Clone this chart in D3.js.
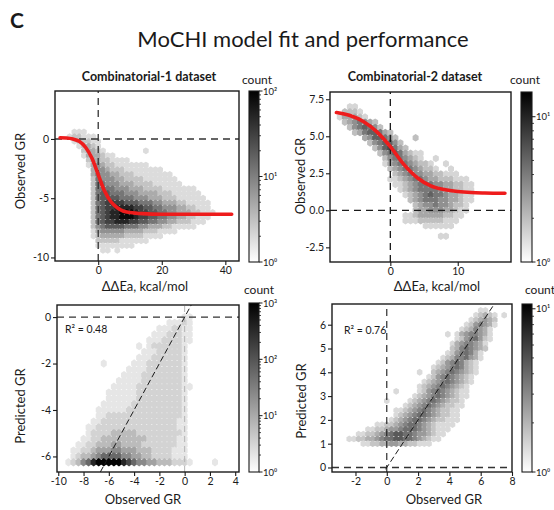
<!DOCTYPE html>
<html><head><meta charset="utf-8">
<script src="https://cdn.jsdelivr.net/npm/d3@7"></script>
<style>
body{margin:0;background:#fff}
svg{display:block}
text{font-family:Lato,'Open Sans',sans-serif;fill:#1a1a1a}
</style>
</head><body>
<svg id="c" width="554" height="510"></svg>
<script>
// ---------------- DATA ----------------
const panelLetter = "C";
const mainTitle = "MoCHI model fit and performance";
const panelTitles = ["Combinatorial-1 dataset", "Combinatorial-2 dataset"];

// density bins: [row index j, first column index i, levels per column ('.' = empty)]
// Panel 1: x = -9 + 1.5*i, y = 1.0 - 0.4*j
const p1XStart = -9, p1XStep = 1.5, p1YStart = 1.0, p1YStep = 0.4;
const p1Rows = [
 [1,1,"111"],
 [2,0,"122111"],
 [3,1,"122211"],
 [4,2,"12321"],
 [5,3,"23321........1"],
 [6,3,"1333211"],
 [7,4,"233221111"],
 [8,4,"1343221111111"],
 [9,5,"344322211111111"],
 [10,5,"35443322211111111"],
 [11,5,"254443322221111111"],
 [12,5,"2554443332222111111"],
 [13,5,"2555544433322221111111"],
 [14,5,"25665554443333222111111"],
 [15,5,"256666555444333222111111"],
 [16,5,"2567777666555443332211111"],
 [17,5,"2567788887766554443322111"],
 [18,5,"25678899987766554433322111"],
 [19,5,"2567889998776655443322111"],
 [20,5,"256778887766554433222111"],
 [21,5,"2456666555443332211111"],
 [22,5,"134444433332221111"],
 [23,5,"123333322221111"],
 [24,6,"22222111111"],
 [25,6,"11111111"],
 [26,7,"11.1"]
];
// Panel 2: x = -7.5 + 0.75*i, y = 7.0 - 0.35*j
const p2XStart = -7.5, p2XStep = 0.75, p2YStart = 7.0, p2YStep = 0.35;
const p2Rows = [
 [0,2,"11"],
 [1,1,"2221"],
 [2,0,"133321"],
 [3,1,"2345432"],
 [4,2,"2456542"],
 [5,3,"23566532"],
 [6,5,"3466542...2"],
 [7,6,"2456642"],
 [8,7,"2467532"],
 [9,8,"245653211"],
 [10,9,"24554321..1"],
 [11,9,"1345543221..1"],
 [12,10,"2345543221..1"],
 [13,11,"2345443322111"],
 [14,10,"1123455433222111"],
 [15,11,"1123455544332211"],
 [16,12,"123455554332211"],
 [17,13,"12345655433211"],
 [18,14,"2345554433211"],
 [19,15,"23445443221"],
 [20,15,"23344433211"],
 [21,13,"112333332211"],
 [22,13,"11122222111"],
 [23,17,"111111"],
 [25,20,"11"]
];
// Panel 3: x = -10 + 0.4*i, y = 0.25 - 0.25*j
const p3XStart = -10, p3XStep = 0.4, p3YStart = 0.25, p3YStep = 0.25;
const p3Rows = [
 [1,25,"11"],
 [2,22,"11121"],
 [3,20,"1112211"],
 [4,19,"11122211"],
 [5,18,"111222211"],
 [6,16,"1.12222221"],
 [7,17,"111222221"],
 [8,16,"1112222221"],
 [9,9,"1.....11122222221"],
 [10,14,"111122222221"],
 [11,13,"1111222222221"],
 [12,12,"11111222222221"],
 [13,11,"1111122222222211"],
 [14,10,"1111112222222221"],
 [15,10,"1111112222222221"],
 [16,9,"11111122222222221"],
 [17,8,"111111222222222221"],
 [18,8,"112222222222222221"],
 [19,7,"1122222222222222211"],
 [20,6,"11222222222222222211"],
 [21,6,"12222333332222222221"],
 [22,5,"112233333333322222211"],
 [23,4,"1122333443333222222211"],
 [24,3,"11223444554443332222111"],
 [25,3,"12334566665544332222111"],
 [26,2,"1235689999987655443332221....1"]
];
// Panel 4: x = -3 + 0.3*i, y = 6.8 - 0.2*j
const p4XStart = -3, p4XStep = 0.3, p4YStart = 6.8, p4YStep = 0.2;
const p4Rows = [
 [1,30,"11"],
 [2,29,"12321.1"],
 [3,28,"123432"],
 [4,27,"1245431"],
 [5,26,"1235431"],
 [6,23,"1.13455431"],
 [7,25,"12456421"],
 [8,24,"13455431"],
 [9,24,"23565432"],
 [10,23,"12456531"],
 [11,22,"123556431"],
 [12,21,"124565321"],
 [13,20,"1234565321"],
 [14,17,"1..2345654321"],
 [15,19,"1245654321"],
 [16,18,"12345654321"],
 [17,17,"12345654321"],
 [18,12,"1....12456543211"],
 [19,16,"123456543211"],
 [20,10,"1....123456543221"],
 [21,14,"1234565432211"],
 [22,12,"11234565432211"],
 [23,12,"12345665432211"],
 [24,11,"123456654322111"],
 [25,8,"11223456654321111"],
 [26,6,"112234456665432111"],
 [27,4,"1122345677665443211"],
 [28,2,"11223345667766543211"],
 [29,5,"112233443322111"]
];

// fitted curves (top row)
const fit1X = [-12,-10,-8,-6,-4,-2,0,2,4,6,8,10,14,20,30,42];
const fit1Y = [0.1,0.08,0.0,-0.2,-0.7,-1.6,-3.0,-4.4,-5.3,-5.8,-6.1,-6.2,-6.3,-6.35,-6.35,-6.35];
const fit2X = [-8,-6,-4,-2,0,2,4,6,8,10,12,14,17];
const fit2Y = [6.6,6.4,6.0,5.3,4.3,3.1,2.2,1.65,1.4,1.27,1.2,1.17,1.15];

// axis ticks
const p1XTicks = [0,20,40],      p1YTicks = [-10,-5,0];
const p2XTicks = [0,10],         p2YTicks = [-2.5,0,2.5,5,7.5];
const p3XTicks = [-10,-8,-6,-4,-2,0,2,4], p3YTicks = [-6,-4,-2,0];
const p4XTicks = [-2,0,2,4,6,8], p4YTicks = [0,1,2,3,4,5,6];

// colorbar maxima and labelled decades
const cbMax = [100, 14.8, 1000, 10.7];
const cbMajors = [[1,10,100],[1,10],[1,10,100,1000],[1,10]];
const cbLabel = "count";

const r2Labels = ["R² = 0.48", "R² = 0.76"];
const xLabelTop = "ΔΔEa, kcal/mol";
const xLabelBottom = "Observed GR";
const yLabelTop = "Observed GR";
const yLabelBottom = "Predicted GR";

// ---------------- DRAWING ----------------
const svg = d3.select("#c");
const defs = svg.append("defs");
const FONT = "Lato,'Open Sans',sans-serif";

const grad = defs.append("linearGradient").attr("id","cbgrad")
  .attr("x1",0).attr("y1",1).attr("x2",0).attr("y2",0);
grad.append("stop").attr("offset","0%").attr("stop-color","#ffffff");
grad.append("stop").attr("offset","100%").attr("stop-color","#000000");

function cellsFrom(rows, x0, dx, y0, dy){
  const out=[];
  rows.forEach(([j,i0,s])=>{
    for(let k=0;k<s.length;k++){
      const ch=s[k]; if(ch==='.') continue;
      out.push({x:x0+dx*(i0+k), y:y0-dy*j, v:+ch});
    }
  });
  return out;
}

const sup = {"0":"⁰","1":"¹","2":"²","3":"³"};

function panel(o){
  const x = d3.scaleLinear().domain(o.xd).range([o.L,o.R]);
  const y = d3.scaleLinear().domain(o.yd).range([o.B,o.T]);
  const id = "clip"+o.id;
  defs.append("clipPath").attr("id",id).append("rect")
    .attr("x",o.L).attr("y",o.T).attr("width",o.R-o.L).attr("height",o.B-o.T);
  const g = svg.append("g");
  const pg = g.append("g").attr("clip-path",`url(#${id})`);
  const color = d3.scaleLinear().domain(o.gd).range(o.grays).interpolate(d3.interpolateRgb);
  const cells = cellsFrom(o.rows,o.x0,o.dx,o.y0,o.dy);
  const w = Math.abs(x(o.dx)-x(0)), h = Math.abs(y(0)-y(o.dy));
  const hex = d3.range(6).map(k=>{const a=Math.PI/6+k*Math.PI/3; return [0.66*w*Math.cos(a)/Math.cos(Math.PI/6)*0.9, 0.72*h*Math.sin(a)/0.5*0.5*1.0];});
  const hexPath = "M"+hex.map(p=>p.map(v=>v.toFixed(2)).join(",")).join("L")+"Z";
  pg.selectAll("path.cell").data(cells).join("path").attr("class","cell")
    .attr("transform",d=>`translate(${x(d.x)},${y(d.y)})`)
    .attr("d",hexPath).attr("fill",d=>color(d.v));
  // reference lines
  (o.refs||[]).forEach(rf=>{
    let x1,y1,x2,y2;
    if(rf.type==="h"){x1=o.xd[0];x2=o.xd[1];y1=y2=rf.v;}
    else if(rf.type==="v"){y1=o.yd[0];y2=o.yd[1];x1=x2=rf.v;}
    else {const lo=Math.min(o.xd[0],o.yd[0])-1, hi=Math.max(o.xd[1],o.yd[1])+1; x1=y1=lo; x2=y2=hi;}
    pg.append("line").attr("x1",x(x1)).attr("y1",y(y1)).attr("x2",x(x2)).attr("y2",y(y2))
      .attr("stroke",rf.c).attr("stroke-width",rf.w).attr("stroke-dasharray",rf.dash);
  });
  if(o.fitX){
    const line = d3.line().x((d,i)=>x(o.fitX[i])).y((d,i)=>y(o.fitY[i])).curve(d3.curveMonotoneX);
    pg.append("path").attr("d",line(o.fitX)).attr("fill","none")
      .attr("stroke","#ee1c1c").attr("stroke-width",3.6).attr("stroke-linecap","round");
  }
  // axes
  const fmt = o.fmt || (d=>String(d));
  const ax = g.append("g").attr("transform",`translate(0,${o.B})`)
    .call(d3.axisBottom(x).tickValues(o.xt).tickSize(4).tickPadding(2).tickFormat(fmt));
  const ay = g.append("g").attr("transform",`translate(${o.L},0)`)
    .call(d3.axisLeft(y).tickValues(o.yt).tickSize(4).tickPadding(2).tickFormat(o.yfmt||fmt));
  [ax,ay].forEach(a=>{
    a.select(".domain").remove();
    a.attr("font-family",FONT).attr("font-size",10.5);
    a.selectAll("line").attr("stroke","#1a1a1a").attr("stroke-width",1.1);
    a.selectAll("text").attr("fill","#1a1a1a");
  });
  g.append("rect").attr("x",o.L).attr("y",o.T).attr("width",o.R-o.L).attr("height",o.B-o.T)
    .attr("fill","none").attr("stroke","#1a1a1a").attr("stroke-width",1.4);
  // labels
  g.append("text").attr("x",o.xlx).attr("y",o.xly).attr("text-anchor","middle")
    .attr("font-size",13).text(o.xlabel);
  g.append("text").attr("transform",`translate(${o.ylx},${o.yly}) rotate(-90)`)
    .attr("text-anchor","middle").attr("font-size",13).text(o.ylabel);
  if(o.r2) g.append("text").attr("x",o.r2x).attr("y",o.r2y).attr("font-size",10.5).text(o.r2);
  // colorbar
  const cb = o.cb;
  const cs = d3.scaleLog().domain([1,cb.max]).range([cb.B,cb.T]);
  g.append("rect").attr("x",cb.L).attr("y",cb.T).attr("width",cb.R-cb.L).attr("height",cb.B-cb.T)
    .attr("fill","url(#cbgrad)").attr("stroke","#1a1a1a").attr("stroke-width",1.1);
  cb.majors.forEach(m=>{
    g.append("line").attr("x1",cb.R).attr("x2",cb.R+3.5).attr("y1",cs(m)).attr("y2",cs(m))
      .attr("stroke","#1a1a1a").attr("stroke-width",1);
    const e = String(Math.round(Math.log10(m)));
    g.append("text").attr("x",cb.R+4).attr("y",cs(m)+3.5).attr("font-size",9.5)
      .text("10"+e.split("").map(c=>sup[c]).join(""));
    for(let k=2;k<10;k++){
      const v=m*k; if(v>cb.max) break;
      g.append("line").attr("x1",cb.R).attr("x2",cb.R+2).attr("y1",cs(v)).attr("y2",cs(v))
        .attr("stroke","#1a1a1a").attr("stroke-width",0.8);
    }
  });
  g.append("text").attr("x",cb.lx).attr("y",cb.ly).attr("text-anchor","middle")
    .attr("font-size",12).text(cbLabel);
}

const darkDash = {c:"#333",w:1.3,dash:"7,5"};

panel({id:1,L:55,R:239,T:91,B:261,xd:[-13.6,44.3],yd:[-10.3,4.05],
  rows:p1Rows,x0:p1XStart,dx:p1XStep,y0:p1YStart,dy:p1YStep,
  gd:[1,3,6,9],grays:["#dcdcdc","#ababab","#5c5c5c","#0a0a0a"],
  refs:[{type:"h",v:0,...darkDash},{type:"v",v:0,...darkDash}],
  fitX:fit1X,fitY:fit1Y,xt:p1XTicks,yt:p1YTicks,
  xlabel:xLabelTop,xlx:145,xly:291,ylabel:yLabelTop,ylx:25,yly:171,
  cb:{L:249,R:259,T:91,B:262,max:cbMax[0],majors:cbMajors[0],lx:257,ly:84}});

panel({id:2,L:330,R:511,T:92,B:262,xd:[-8.95,17.9],yd:[-3.49,7.99],
  rows:p2Rows,x0:p2XStart,dx:p2XStep,y0:p2YStart,dy:p2YStep,
  gd:[1,9],grays:["#d6d6d6","#1a1a1a"],
  refs:[{type:"h",v:0,c:"#1a1a1a",w:1.3,dash:"7,5"},{type:"v",v:0,c:"#1a1a1a",w:1.3,dash:"7,5"}],
  fitX:fit2X,fitY:fit2Y,xt:p2XTicks,yt:p2YTicks,yfmt:d=>d.toFixed(1),
  xlabel:xLabelTop,xlx:437,xly:291,ylabel:yLabelTop,ylx:305,yly:176,
  cb:{L:521,R:532,T:92,B:262,max:cbMax[1],majors:cbMajors[1],lx:525,ly:84}});

panel({id:3,L:57,R:239,T:305,B:472,xd:[-10.1,4.3],yd:[-6.67,0.52],
  rows:p3Rows,x0:p3XStart,dx:p3XStep,y0:p3YStart,dy:p3YStep,
  gd:[1,2,5,9],grays:["#e6e6e6","#d3d3d3","#8a8a8a","#050505"],
  refs:[{type:"h",v:0,...darkDash},{type:"v",v:0,c:"#b5b5b5",w:1,dash:"6,4"},{type:"d",c:"#1a1a1a",w:1,dash:"6,3"}],
  xt:p3XTicks,yt:p3YTicks,
  xlabel:xLabelBottom,xlx:143,xly:504,ylabel:yLabelBottom,ylx:25,yly:406,
  r2:r2Labels[0],r2x:65,r2y:333,
  cb:{L:249,R:259,T:303,B:472,max:cbMax[2],majors:cbMajors[2],lx:259,ly:294}});

panel({id:4,L:332,R:512,T:304,B:472,xd:[-3.5,8.0],yd:[-0.19,6.87],
  rows:p4Rows,x0:p4XStart,dx:p4XStep,y0:p4YStart,dy:p4YStep,
  gd:[1,9],grays:["#dadada","#2e2e2e"],
  refs:[{type:"h",v:0,...darkDash},{type:"v",v:0,c:"#1a1a1a",w:1.1,dash:"7,5"},{type:"d",c:"#1a1a1a",w:1,dash:"6,3"}],
  xt:p4XTicks,yt:p4YTicks,
  xlabel:xLabelBottom,xlx:444,xly:504,ylabel:yLabelBottom,ylx:306,yly:401,
  r2:r2Labels[1],r2x:344,r2y:334,
  cb:{L:522,R:532,T:304,B:472,max:cbMax[3],majors:cbMajors[3],lx:540,ly:294}});

// titles
svg.append("text").attr("x",10).attr("y",28).attr("font-size",21).attr("font-weight","bold").text(panelLetter);
svg.append("text").attr("x",303).attr("y",47).attr("text-anchor","middle").attr("font-size",22).text(mainTitle);
svg.append("text").attr("x",149).attr("y",81).attr("text-anchor","middle").attr("font-size",12.5).attr("font-weight","bold").text(panelTitles[0]);
svg.append("text").attr("x",415).attr("y",81).attr("text-anchor","middle").attr("font-size",12.5).attr("font-weight","bold").text(panelTitles[1]);
</script>
</body></html>
